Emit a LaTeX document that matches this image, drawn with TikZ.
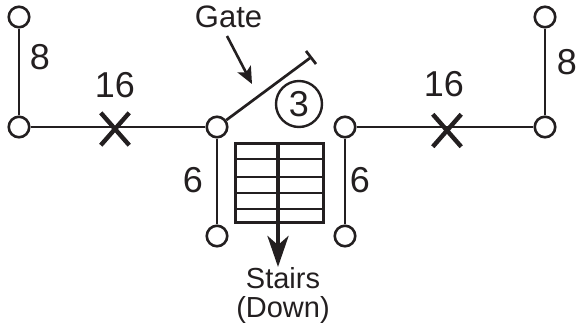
\documentclass[tikz,border=0pt]{standalone}
\usepackage{fontspec}
\setmainfont{Liberation Sans}
\usetikzlibrary{shapes.misc,arrows.meta}
\definecolor{ink}{HTML}{231F20}
\tikzset{
  post/.style={circle,draw=ink,line width=2.6pt,fill=white,minimum size=20.5pt,inner sep=0pt},
  wall/.style={draw=ink,line width=2.7pt},
  mark16/.style={cross out,draw=ink,line width=4.4pt,minimum width=24pt,minimum height=28pt,inner sep=0pt},
  num/.style={text=ink,font=\fontsize{36}{36}\selectfont,inner sep=0pt},
  lab/.style={text=ink,font=\fontsize{29}{29}\selectfont,inner sep=0pt},
  tread/.style={draw=ink,line width=2.1pt}
}
\begin{document}
\begin{tikzpicture}[x=1pt,y=-1pt]
\useasboundingbox (0,0) rectangle (576,330);
\coordinate (gateend) at (310,58);
\coordinate (gb1) at (306,51);
\coordinate (gb2) at (316,64);
\coordinate (ga1) at (227,36);
\coordinate (ga2) at (252,84);
\node[post] (lt) at (19,17) {};
\node[post] (lb) at (19,127) {};
\node[post] (cl) at (217,127) {};
\node[post] (cr) at (345,127) {};
\node[post] (dl) at (217,236) {};
\node[post] (dr) at (345,236) {};
\node[post] (rb) at (545,127) {};
\node[post] (rt) at (545,17) {};
\draw[wall] (lt) -- (lb);
\draw[wall] (lb) -- (cl);
\draw[wall] (cl) -- (dl);
\draw[wall] (cr) -- (dr);
\draw[wall] (cr) -- (rb);
\draw[wall] (rb) -- (rt);
\draw[wall] (cl) -- (gateend);
\draw[wall] (gb1) -- (gb2);
\node[mark16] (x1) at (115,129) {};
\node[mark16] (x2) at (447,130.5) {};
\node[num] (n8l) at (40,57) {8};
\node[num] (n8r) at (567,62) {8};
\node[num] (n16l) at (115,85) {16};
\node[num] (n16r) at (444,84) {16};
\node[num] (n6l) at (193,180) {6};
\node[num] (n6r) at (360,180) {6};
\node[circle,draw=ink,line width=2.4pt,minimum size=46pt,inner sep=0pt,text=ink,font=\fontsize{36}{36}\selectfont] (three) at (299,104) {3};
\node[text=ink,font=\fontsize{31}{31}\selectfont,inner sep=0pt] (gate) at (228.5,17) {Gate};
\draw[draw=ink,line width=2.6pt,-{Stealth[length=17pt,width=15pt,inset=4pt]}] (ga1) -- (ga2);
\node[draw=ink,line width=2.1pt,minimum width=88pt,minimum height=79pt,inner sep=0pt] (st) at (279.5,183) {};
\foreach \y/\n in {159/t1,177/t2,193/t3,209/t4}{
  \coordinate (\n a) at (235.5,\y);
  \coordinate (\n b) at (323.5,\y);
  \draw[tread] (\n a) -- (\n b);
}
\node[lab] (stairs) at (283,278) {Stairs};
\node[lab] (down) at (283,310) {(Down)};
\coordinate (stop) at (278,143);
\coordinate (sbot) at (278,267);
\draw[draw=ink,line width=4.5pt,-{Stealth[length=31pt,width=21pt,inset=9pt]}] (stop) -- (sbot);
\end{tikzpicture}
\end{document}
